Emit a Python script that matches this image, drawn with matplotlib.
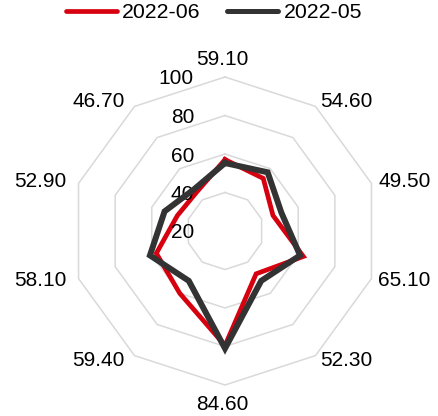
import numpy as np
import matplotlib
matplotlib.use("Agg")
import matplotlib.pyplot as plt
from matplotlib.lines import Line2D

plt.rcParams['font.family'] = ['Liberation Sans', 'DejaVu Sans']

categories = ["59.10", "54.60", "49.50", "65.10", "52.30", "84.60", "59.40", "58.10", "52.90", "46.70"]
jun_2022 = [57.1, 53.8, 46.2, 62.8, 47.5, 79.5, 60.0, 57.5, 46.0, 45.0]
may_2022 = [55.3, 57.7, 50.8, 61.0, 52.0, 81.0, 52.0, 61.0, 53.0, 47.0]
series_names = ["2022-06", "2022-05"]
radial_ticks = [20, 40, 60, 80, 100]

RED = "#d7000f"
DARK = "#333333"
GRID = "#d9d9d9"
FS = 15

W, H = 438, 416
fig = plt.figure(figsize=(W / 100, H / 100), dpi=100)
cx, cy, R = 225, 416 - 231, 154
ax = fig.add_axes([(cx - R) / W, (cy - R) / H, 2 * R / W, 2 * R / H], projection='polar')
ax.set_theta_offset(np.pi / 2)
ax.set_theta_direction(-1)
ax.set_ylim(20, 100)
ax.grid(False)
ax.spines['polar'].set_visible(False)
ax.set_xticks([])
ax.set_yticks([])
ax.patch.set_alpha(0)

n = len(categories)
theta = np.arange(n) * 2 * np.pi / n
theta_c = np.append(theta, theta[0])

for r in radial_ticks[1:]:
    ax.plot(theta_c, [r] * (n + 1), color=GRID, lw=1.1, zorder=1, clip_on=False)

def closed(v):
    return list(v) + [v[0]]

ax.plot(theta_c, closed(jun_2022), color=RED, lw=3.4, solid_joinstyle='miter', zorder=3, clip_on=False)
ax.plot(theta_c, closed(may_2022), color=DARK, lw=4.3, solid_joinstyle='miter', zorder=4, clip_on=False)

# radial labels
for r in radial_ticks:
    ax.annotate(str(r), xy=(0, r), xycoords='data', xytext=(-31, -2), textcoords='offset pixels',
                ha='right', va='center', fontsize=FS, color='#000000')

# category labels
r_lab = 20 + 160 / R * 80
for t, lab in zip(theta, categories):
    s = np.sin(t)
    c = np.cos(t)
    if abs(s) < 1e-6:
        ha = 'center'
        if c > 0:
            va, dx, dy = 'bottom', -3, 2
        else:
            va, dx, dy = 'top', -3, -4
    elif s > 0:
        ha, va, dx, dy = 'left', 'center', 1, 0
    else:
        ha, va, dx, dy = 'right', 'center', -6, 0
    ax.annotate(lab, xy=(t, r_lab), xycoords='data', xytext=(dx, dy), textcoords='offset pixels',
                ha=ha, va=va, fontsize=FS, color='#000000', annotation_clip=False)

handles = [Line2D([], [], color=RED, lw=3.4, solid_capstyle='round'),
           Line2D([], [], color=DARK, lw=3.6, solid_capstyle='round')]
fig.legend(handles, series_names, loc='center', bbox_to_anchor=(214 / W, 1 - 13 / H), ncol=2,
           frameon=False, fontsize=15.3, handlelength=2.4, handletextpad=0.26, columnspacing=1.26,
           borderpad=0, borderaxespad=0)

fig.savefig("out.png", dpi=100)
